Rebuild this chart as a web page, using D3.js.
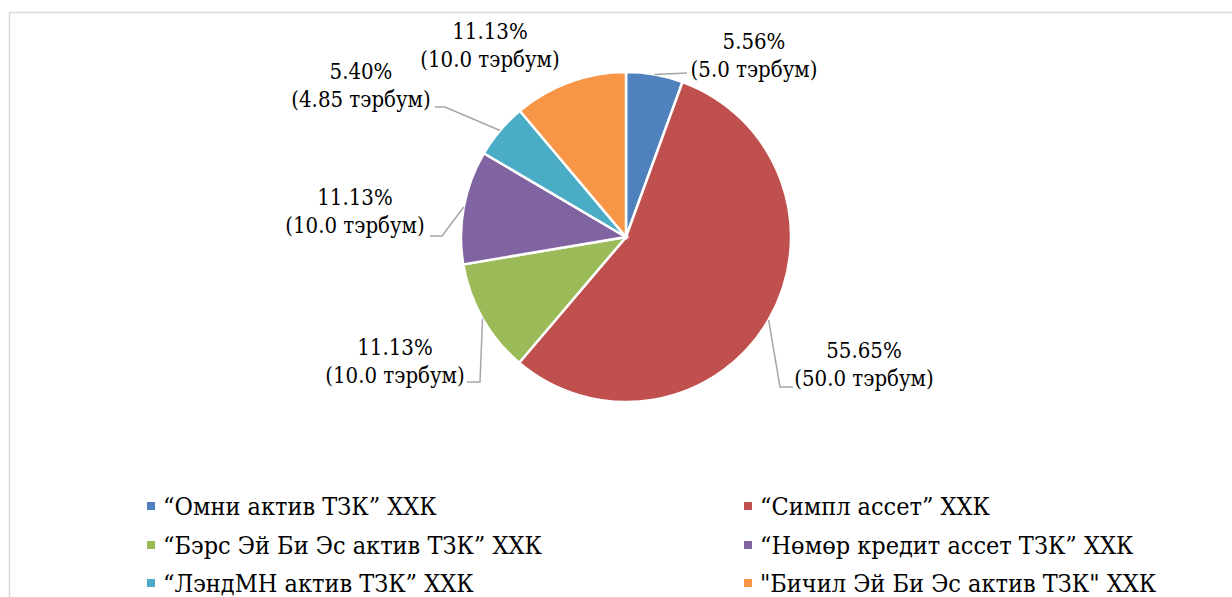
<!DOCTYPE html>
<html>
<head>
<meta charset="utf-8">
<script src="https://cdn.jsdelivr.net/npm/d3@7"></script>
<style>
  body { margin: 0; background: #fff; }
  svg text { font-stretch: condensed; }
</style>
</head>
<body>
<svg id="chart" width="1232" height="597"></svg>
<script>
// chart values
const companies = [
  '“Омни актив ТЗК” ХХК',
  '“Симпл ассет” ХХК',
  '“Бэрс Эй Би Эс актив ТЗК” ХХК',
  '“Нөмөр кредит ассет ТЗК” ХХК',
  '“ЛэндМН актив ТЗК” ХХК',
  '"Бичил Эй Би Эс актив ТЗК" ХХК'
];
const amounts = [5.0, 50.0, 10.0, 10.0, 4.85, 10.0];
const amountLabels = ['5.0', '50.0', '10.0', '10.0', '4.85', '10.0'];
const colors = ['#4F81BD', '#C0504D', '#9BBB59', '#8064A2', '#4BACC6', '#F79646'];

const FONT = "'DejaVu Serif Condensed', 'DejaVu Serif', serif";
const FSIZE = 22;
const LEGEND_FSIZE = 25;

// label placement (Excel style), absolute px
const labelLayout = [
  { x: 754, y: 49, leader: [[687, 73]] },
  { x: 864, y: 358, leader: [[780, 387], [793, 387]] },
  { x: 395, y: 355, leader: [[480, 382], [467, 382]] },
  { x: 355, y: 205, leader: [[442, 236], [430, 236]] },
  { x: 361, y: 79, leader: [[445, 107], [435, 107]] },
  { x: 490, y: 39, leader: null }
];

const svg = d3.select('#chart');
const cx = 626, cy = 237, r = 165;

// outer border
svg.append('rect')
  .attr('x', 9.5).attr('y', 12.5)
  .attr('width', 1240).attr('height', 620)
  .attr('fill', 'none').attr('stroke', '#d9d9d9').attr('stroke-width', 1.5);

const total = d3.sum(amounts);
const pie = d3.pie().sort(null).value(d => d)(amounts);
const arc = d3.arc().innerRadius(0).outerRadius(r);

const g = svg.append('g').attr('transform', `translate(${cx},${cy})`);

g.selectAll('path')
  .data(pie)
  .enter()
  .append('path')
  .attr('d', arc)
  .attr('fill', (d, i) => colors[i])
  .attr('stroke', '#fff')
  .attr('stroke-width', 2.5);

// leader lines
pie.forEach((d, i) => {
  const lay = labelLayout[i];
  if (!lay.leader) return;
  const mid = (d.startAngle + d.endAngle) / 2;
  const edge = [cx + r * Math.sin(mid), cy - r * Math.cos(mid)];
  const pts = [edge].concat(lay.leader);
  svg.append('path')
    .attr('d', d3.line()(pts))
    .attr('fill', 'none')
    .attr('stroke', '#a6a6a6')
    .attr('stroke-width', 1.5);
});

// data labels
pie.forEach((d, i) => {
  const lay = labelLayout[i];
  const pct = (amounts[i] / total * 100).toFixed(2) + '%';
  const t = svg.append('text')
    .attr('text-anchor', 'middle')
    .attr('font-family', FONT)
    .attr('font-size', FSIZE)
    .attr('fill', '#000');
  t.append('tspan').attr('x', lay.x).attr('y', lay.y).text(pct);
  t.append('tspan').attr('x', lay.x).attr('y', lay.y + 28)
    .text('(' + amountLabels[i] + ' тэрбум)');
});

// legend, two columns
const legendX = [147, 744];
const legendY = [506, 545, 583];
const legend = svg.append('g');
companies.forEach((name, i) => {
  const x = legendX[i % 2];
  const y = legendY[Math.floor(i / 2)];
  legend.append('rect')
    .attr('x', x).attr('y', y - 4)
    .attr('width', 8).attr('height', 8)
    .attr('fill', colors[i]);
  legend.append('text')
    .attr('x', x + 16).attr('y', y + 9)
    .attr('font-family', FONT)
    .attr('font-size', LEGEND_FSIZE)
    .attr('fill', '#000')
    .text(name);
});
</script>
</body>
</html>
